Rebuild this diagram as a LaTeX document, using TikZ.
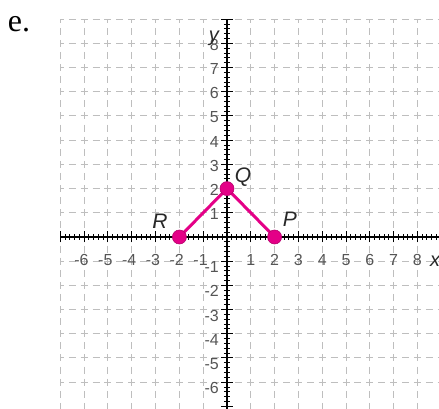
\documentclass[tikz,border=0pt]{standalone}
\usepackage{fontspec}
\setmainfont{Liberation Serif}
\setsansfont{Liberation Sans}
\definecolor{gridgray}{RGB}{190,190,190}
\definecolor{tickgray}{RGB}{85,85,85}
\definecolor{labgray}{RGB}{40,40,40}
\definecolor{seg}{RGB}{228,0,135}
\begin{document}
\begin{tikzpicture}[x=23.8pt,y=24.2pt,
  hgrid/.style={draw=gridgray,line width=1pt,dash pattern=on 7pt off 4.9pt,dash phase=3.5pt},
  vgrid/.style={draw=gridgray,line width=1pt,dash pattern=on 7pt off 5.1pt,dash phase=3.5pt},
  axisline/.style={draw=black,line width=1.3pt},
  tickmark/.style={draw=black,line width=1pt},
  ticklab/.style={font=\sffamily\fontsize{16}{16}\selectfont,text=tickgray,inner sep=0pt},
  ptlab/.style={font=\sffamily\itshape\fontsize{21}{21}\selectfont,text=labgray,inner sep=0pt},
  axlab/.style={font=\sffamily\itshape\fontsize{20}{20}\selectfont,text=labgray,inner sep=0pt},
  segline/.style={draw=seg,line width=3pt},
  dot/.style={circle,fill=seg,draw=seg!80!black,line width=0.6pt,minimum size=14pt,inner sep=0pt}]
\useasboundingbox (-227pt,-172pt) rectangle (212pt,237pt);
\clip (-227pt,-172pt) rectangle (212pt,237pt);
% grid
\foreach \i in {-7,...,8} \draw[vgrid] (\i,9) -- (\i,-7.5);
\foreach \j in {-6,...,9} \draw[hgrid] (-7,\j) -- (9.5,\j);
% axes
\draw[axisline] (-7,0) -- (9.5,0);
\draw[axisline] (0,9) -- (0,-7.5);
\foreach \k in {-35,...,45} \draw[tickmark] (\k/5,-3pt) -- (\k/5,3pt);
\foreach \i in {-7,...,9} \draw[tickmark] (\i,-5.5pt) -- (\i,5.5pt);
\foreach \k in {-37,...,45} \draw[tickmark] (-3pt,\k/5) -- (3pt,\k/5);
\foreach \j in {-7,...,9} \draw[tickmark] (-5.5pt,\j) -- (5.5pt,\j);
% tick labels
\foreach \i in {1,...,8} \node[ticklab] (xl\i) at (\i,0) [yshift=-23pt] {\i};
\foreach \i in {1,...,6} \node[ticklab] (xn\i) at (-\i,0) [yshift=-23pt] {\llap{-}\i};
\foreach \j in {1,...,8} \node[ticklab,anchor=east] (yl\j) at (0,\j) [xshift=-8pt,yshift=-1.5pt] {\j};
\foreach \j in {1,...,6} \node[ticklab,anchor=east] (yn\j) at (0,-\j) [xshift=-8pt,yshift=-6pt] {-\j};
\node[axlab] (xlab) at (208pt,-24pt) {x};
\node[axlab] (ylab) at (-13pt,199pt) {y};
% segments
\coordinate (P) at (2,0);
\coordinate (Q) at (0,2);
\coordinate (R) at (-2,0);
\draw[segline] (R) -- (Q) -- (P);
\node[dot] (dR) at (R) {};
\node[dot] (dQ) at (Q) {};
\node[dot] (dP) at (P) {};
\node[ptlab] (lR) at (-67pt,16pt) {R};
\node[ptlab] (lQ) at (16pt,60pt) {Q};
\node[ptlab] (lP) at (63pt,18pt) {P};
\node[font=\fontsize{32}{32}\selectfont,inner sep=0pt] (e) at (-208pt,213pt) {e.};
\end{tikzpicture}
\end{document}
